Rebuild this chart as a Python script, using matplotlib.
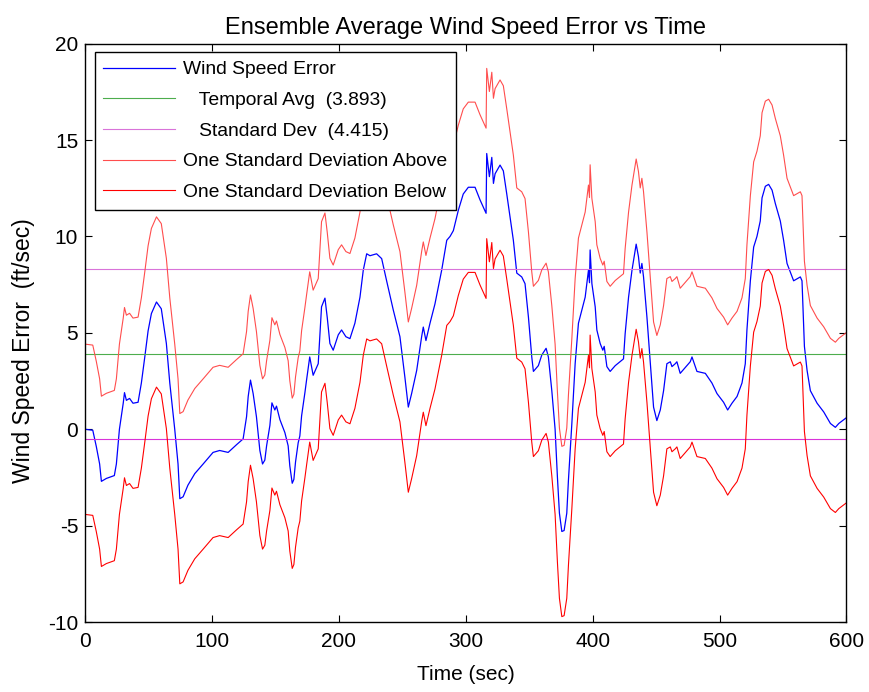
import numpy as np
import matplotlib
matplotlib.use('Agg')
import matplotlib.pyplot as plt

plt.rcParams['font.family'] = ['Liberation Sans', 'DejaVu Sans']
plt.rcParams['axes.unicode_minus'] = False

# ensemble average wind speed error
time_sec = [0, 6, 8.8, 11.4, 12.8, 16.7, 23, 24.6, 27, 30, 31, 32.5, 35, 37.7, 41.7,
            44.3, 47, 49.6, 52.2, 56.2, 60, 64, 66.7, 70.6, 73.2, 74.6, 77.2, 81,
            86.4, 93, 100.8, 106, 112.7, 119.3, 124.5, 127.2, 128.5, 130.3, 132.4,
            135, 137.7, 139.8, 141.6, 143, 145.6, 147.2, 149.5, 150.8, 153.5, 157.4,
            160, 161.3, 163.2, 164.5, 165.8, 167.9, 169.2, 170.6, 173.2, 174.5, 177,
            179.7, 183.7, 186.3, 189, 190.8, 192.9, 195.5, 199.5, 202.1, 205.5,
            208.7, 212.6, 216.6, 219.2, 221.9, 224.5, 229.7, 233.7, 237.6, 242.8,
            248.1, 252, 254.7, 257.3, 261.3, 265.2, 266.5, 268.6, 271.8, 275.7, 281,
            285, 287.6, 290.2, 294.1, 298, 302, 307.3, 311.2, 316, 316.5, 318.6,
            320.5, 321.8, 323.1, 327, 329.6, 332.3, 334.9, 337.5, 340.2, 344.1,
            346.7, 349.4, 352, 353.3, 357.2, 359.9, 363.3, 365.1, 367.8, 370.4,
            372.2, 373.8, 375.7, 377.5, 379.6, 380.9, 383.6, 386.2, 388.8, 394.1,
            396.7, 397.5, 398, 399.4, 402, 403.3, 405.9, 408, 409.1, 411.2, 413.8,
            417.8, 424.3, 425.6, 428.3, 431, 433.5, 434.3, 436.1, 437.5, 438.8,
            440.1, 442.8, 445.4, 448, 450.6, 453.3, 455.9, 458.5, 461.2, 462.5,
            465.1, 466.4, 469, 474.3, 476.9, 478.3, 482.2, 488.8, 494, 498, 503.2,
            506.4, 509.8, 513.8, 517.7, 520.3, 521.6, 524.3, 526.9, 529.5, 532.1,
            533.5, 536.1, 538.7, 541.4, 544, 547.9, 550.5, 553.2, 558.4, 563.7, 565,
            566.9, 569, 571.6, 576.9, 582.1, 587.4, 591.3, 594, 600]
wind_err = [0.0, -0.05, -0.9, -1.8, -2.7, -2.55, -2.4, -1.8, 0.0, 1.35, 1.9, 1.5, 1.6,
            1.35, 1.4, 2.4, 3.75, 5.1, 6.0, 6.6, 6.25, 4.45, 2.4, 0.0, -1.8, -3.6,
            -3.5, -2.9, -2.3, -1.8, -1.2, -1.1, -1.2, -0.8, -0.5, 0.65, 1.7, 2.55,
            1.85, 0.65, -1.1, -1.8, -1.6, -0.86, 0.2, 1.37, 1.0, 1.2, 0.5, -0.17,
            -0.86, -1.9, -2.8, -2.6, -1.7, -0.7, -0.35, 0.7, 1.9, 2.55, 3.75, 2.8,
            3.4, 6.35, 6.8, 5.8, 4.45, 4.1, 4.9, 5.15, 4.8, 4.7, 5.5, 6.85, 8.25,
            9.1, 9.0, 9.1, 8.85, 7.7, 6.2, 4.8, 2.7, 1.15, 1.85, 3.05, 4.8, 5.3, 4.6,
            5.5, 6.5, 8.25, 9.8, 10.0, 10.3, 11.35, 12.2, 12.55, 12.55, 11.9, 11.2,
            14.3, 13.1, 14.1, 12.75, 13.25, 13.7, 13.4, 12.2, 11.0, 9.8, 8.1, 7.9,
            7.55, 5.8, 3.75, 3.0, 3.3, 3.85, 4.2, 3.75, 2.0, 0.0, -2.45, -4.35, -5.3,
            -5.25, -4.35, -2.65, 0.3, 3.4, 5.5, 6.85, 8.25, 7.6, 9.3, 7.55, 6.35,
            5.15, 4.45, 4.1, 4.3, 3.25, 3.0, 3.3, 3.65, 4.95, 6.85, 8.25, 9.3, 9.6,
            8.95, 8.1, 8.6, 7.9, 5.8, 3.5, 1.15, 0.45, 1.0, 2.0, 3.4, 3.5, 3.25, 3.4,
            3.5, 2.9, 3.3, 3.5, 3.75, 3.0, 2.9, 2.4, 1.85, 1.4, 1.0, 1.35, 1.7, 2.4,
            3.4, 5.15, 7.7, 9.45, 10.0, 10.8, 12.0, 12.6, 12.7, 12.4, 11.7, 10.8,
            9.8, 8.6, 7.7, 7.9, 7.7, 4.3, 3.05, 2.0, 1.35, 0.9, 0.3, 0.1, 0.3, 0.6]

temporal_avg = 3.893
std_dev = 4.415

t = np.array(time_sec)
err = np.array(wind_err)

fig = plt.figure(figsize=(8.69, 6.92), dpi=100)
ax = fig.add_axes([0.098, 0.101, 0.876, 0.836])

ax.plot(t, err, color='blue', lw=0.9, label='Wind Speed Error')
ax.axhline(temporal_avg, color=(0.3, 0.68, 0.3), lw=0.8,
           label='   Temporal Avg  (%.3f)' % temporal_avg)
ax.axhline(temporal_avg + std_dev, color=(0.85, 0.45, 0.85), lw=0.8,
           label='   Standard Dev  (%.3f)' % std_dev)
ax.axhline(temporal_avg - std_dev, color=(0.85, 0.2, 0.85), lw=0.8)
ax.plot(t, err + std_dev, color=(1.0, 0.3, 0.3), lw=0.8,
        label='One Standard Deviation Above')
ax.plot(t, err - std_dev, color='red', lw=0.8,
        label='One Standard Deviation Below')

ax.set_xlim(0, 600)
ax.set_ylim(-10, 20)
ax.set_xticks(np.arange(0, 601, 100))
ax.set_yticks(np.arange(-10, 21, 5))
ax.tick_params(direction='in', top=True, right=True, length=5, width=0.8,
               labelsize=15)
ax.tick_params(axis='x', pad=7)
ax.tick_params(axis='y', pad=5)
for s in ax.spines.values():
    s.set_linewidth(1.0)

ax.set_title('Ensemble Average Wind Speed Error vs Time', fontsize=17, pad=7)
ax.set_xlabel('Time (sec)', fontsize=15, labelpad=10)
ax.set_ylabel('Wind Speed Error  (ft/sec)', fontsize=16.5)
ax.yaxis.set_label_coords(-0.066, 0.47)

leg = ax.legend(loc='upper left', bbox_to_anchor=(0.0125, 0.985), borderaxespad=0,
                fontsize=13.9, handlelength=3.7, handletextpad=0.45,
                fancybox=False, framealpha=1, edgecolor='black',
                borderpad=0.45, labelspacing=0.68)
leg.get_frame().set_linewidth(1.0)

fig.savefig('out.png', dpi=100)
